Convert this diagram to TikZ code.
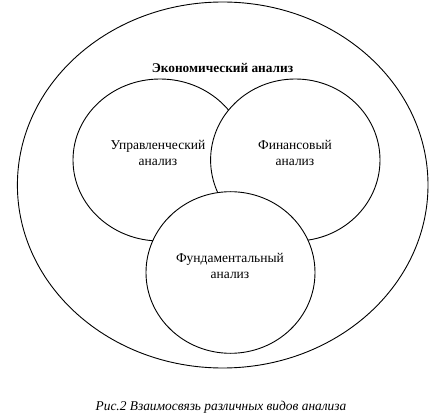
\documentclass[tikz,border=0pt]{standalone}
\usepackage{fontspec}
\setmainfont{Liberation Serif}
\usetikzlibrary{shapes.geometric}
\begin{document}
\begin{tikzpicture}[x=1pt,y=-1pt,
  ring/.style={ellipse,draw=black,fill=white,line width=0.9pt,inner sep=0pt,outer sep=0pt},
  lbl/.style={align=center,font=\fontsize{13.5}{16}\selectfont,inner sep=0pt}]
\useasboundingbox[fill=white] (0,0) rectangle (434,414);
\node[ring,minimum width=410.6pt,minimum height=366pt] (E) at (222.7,185) {};
\node[font=\bfseries\fontsize{13.3}{15}\selectfont,inner sep=0pt] (Et) at (222.5,67.5) {Экономический анализ};
\node[ring,minimum width=174pt,minimum height=162pt] (U) at (160,160) {};
\node[ring,minimum width=169.4pt,minimum height=162pt] (F) at (295.3,160) {};
\node[ring,minimum width=169pt,minimum height=161.6pt] (D) at (230.5,272.5) {};
\node[lbl] (Ut) at (158,153) {Управленческий\\анализ};
\node[lbl] (Ft) at (295,153) {Финансовый\\анализ};
\node[lbl] (Dt) at (230,266) {Фундаментальный\\анализ};
\node[font=\itshape\fontsize{13.4}{15}\selectfont,inner sep=0pt] (cap) at (221,407) {Рис.2 Взаимосвязь различных видов анализа};
\end{tikzpicture}
\end{document}
